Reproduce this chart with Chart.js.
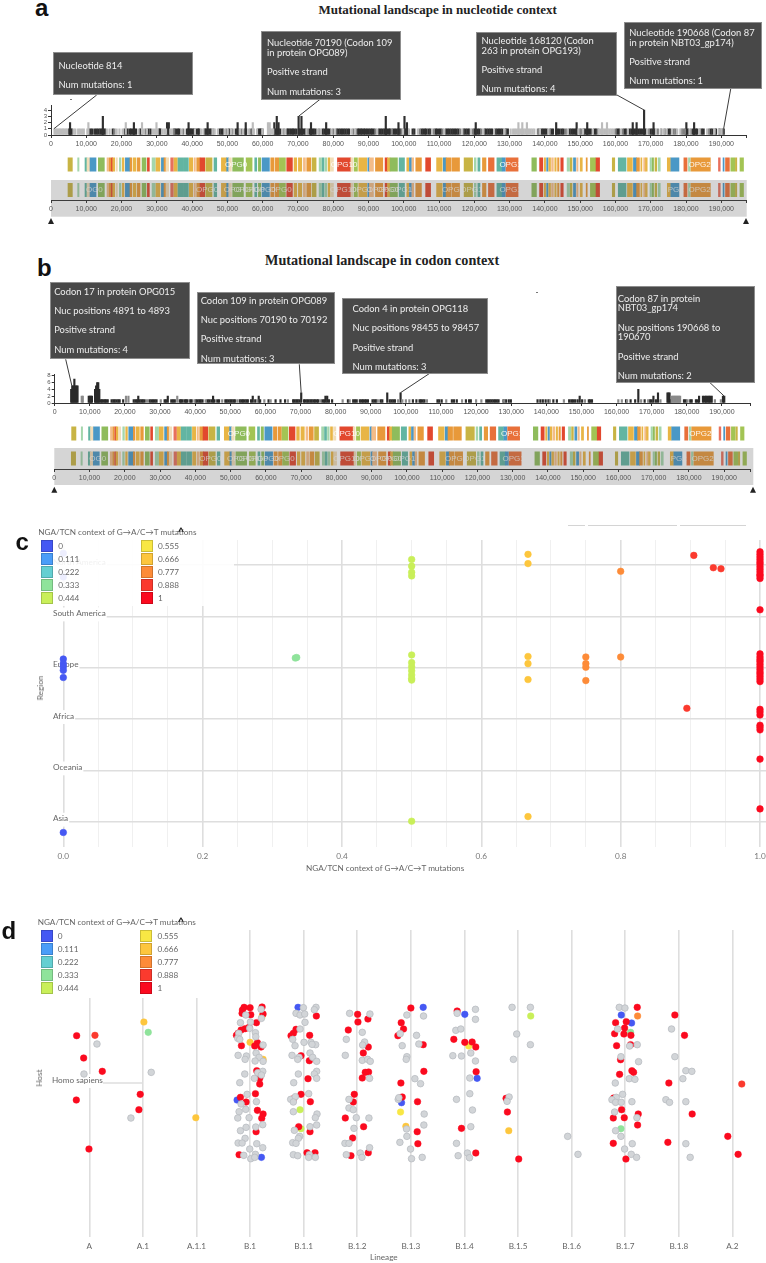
<!DOCTYPE html>
<html>
<head>
<meta charset="utf-8">
<title>Mutational landscape</title>
<script src="https://cdn.jsdelivr.net/npm/chart.js@4/dist/chart.umd.min.js"></script>
<style>
    html, body { margin: 0; background: #fff; }
    #page { position: relative; width: 766px; height: 1263px; overflow: hidden; }
    #page canvas { position: absolute; left: 0; }
    .txt { position: absolute; white-space: nowrap; }
    .title { font-family: "Liberation Serif"; font-weight: bold; color: #222; }
    .letter { font-family: "Liberation Sans"; font-weight: bold; font-size: 24px; line-height: 24px; color: #111; }
    .axis { font-family: Lato; font-size: 8.2px; color: #666; line-height: 10px; }
    .box { position: absolute; box-sizing: border-box; background: rgba(62, 62, 62, 0.95); border: 1px solid #8d8d8d;
           color: #eee; font-family: Lato; font-size: 9.4px; line-height: 9.7px; white-space: nowrap; }
    .box p { margin: 0 0 9.6px 0; }
    .legend { position: absolute; background: #fff; }
    .swatch { position: absolute; width: 12px; height: 12px; box-sizing: border-box; border: 1px solid rgba(0, 0, 0, 0.18); }
</style>
</head>
<body>
<div id="page"></div>
<script>
// --- Panels a and b: genome tracks ---
const genomeTicks = [0, 10000, 20000, 30000, 40000, 50000, 60000, 70000, 80000, 90000, 100000, 110000, 120000, 130000, 140000, 150000, 160000, 170000, 180000, 190000];

const ntLightSites = [1000, 1400, 1800, 2200, 2600, 3000, 3400, 3800, 4200, 4600, 6400, 6900, 7700, 8200, 8800, 9300, 10300, 15800, 16600, 18600, 19400, 20300, 24800, 26200, 27200, 28900, 29500, 30200, 31500, 32100, 32600, 33800, 34300, 37000, 40800, 42500, 43200, 45800, 46400, 47300, 49200, 50100, 51000, 51800, 53500, 54500, 56000, 57500, 58400, 59900, 61600, 62100, 62600, 63000, 65600, 66400, 72400, 75600, 76400, 79500, 80600, 85200, 86200, 92500, 99800, 101500, 104000, 108000, 111500, 116600, 119000, 122600, 125600, 128500, 130300, 131000, 131500, 132000, 132500, 133000, 133500, 134000, 134500, 135000, 135500, 136000, 136500, 137000, 138600, 141000, 146500, 149500, 150800, 153600, 155300, 155800, 156300, 156800, 157300, 157800, 158300, 158800, 159300, 161500, 163500, 169000, 171500, 172800, 173700, 174500, 176000, 177500, 178400, 181000, 183800, 186000, 188000, 189300, 190000];
const ntMidSites = [18000, 26800, 34800, 37500, 46000, 49700, 51300, 54000, 56500, 60000, 62000, 66000, 72700, 76000, 80000, 85700, 86500, 92000, 96600, 99400, 104500, 108500, 111000, 116000, 119500, 122000, 128800, 138000, 138300, 141400, 146000, 149900, 150300, 155000, 160000, 162000, 169500, 172000, 173000, 174000, 176500, 177000, 178800, 179300, 179700, 181400, 184000, 186500, 188200, 190300];
const ntDarkSites = [5100, 5500, 5900, 10800, 11300, 11800, 12500, 13000, 13500, 14000, 14400, 14800, 15300, 17500, 20900, 21300, 21700, 22300, 22700, 23200, 23600, 24100, 25300, 25700, 27600, 28200, 30700, 31000, 33300, 35000, 35500, 36000, 36400, 38500, 38900, 39300, 39700, 40100, 40500, 41200, 41700, 42000, 43600, 44000, 44400, 44900, 45300, 47800, 48300, 48700, 50500, 52400, 52900, 53100, 55000, 55300, 57000, 58800, 59200, 59600, 63500, 64000, 64500, 65000, 67000, 67300, 67800, 68200, 68600, 69000, 69500, 70200, 70600, 71100, 71500, 72000, 73300, 73700, 74100, 74500, 75000, 77000, 77500, 78000, 78500, 79000, 81000, 81500, 82000, 82500, 83000, 83500, 84000, 84500, 87000, 87400, 87800, 88200, 88700, 89100, 89600, 90100, 90600, 91000, 91500, 93000, 93500, 94000, 94500, 94900, 95300, 95800, 96200, 97000, 97500, 98000, 98500, 99000, 100200, 100600, 101000, 102500, 103000, 105000, 105500, 106000, 106400, 107000, 107500, 109000, 109400, 110000, 110500, 112000, 112500, 113000, 113500, 114000, 114500, 115000, 115500, 117000, 117500, 118000, 118500, 120000, 120400, 121000, 121500, 123000, 123500, 124000, 124500, 125000, 126000, 126500, 127000, 127500, 128000, 129000, 129500, 139000, 139500, 140000, 140500, 141800, 142300, 143200, 143700, 144200, 144800, 145300, 147000, 147500, 148000, 148500, 149000, 151000, 151500, 152000, 152500, 153000, 154000, 154500, 160500, 161000, 162500, 163000, 164000, 164500, 165000, 165500, 166000, 166500, 167000, 167500, 168100, 168500, 170000, 170500, 171000, 175000, 175500, 180000, 180500, 182000, 182300, 182800, 183200, 184500, 185000, 187000, 187500, 188500, 189500, 190700];
const ntSpikeSites = [5400, 14700, 23500, 32900, 33400, 39000, 44400, 52900, 55200, 63300, 64000, 64500, 70190, 71000, 73700, 78000, 94900, 98500, 100200, 100900, 120400, 143200, 149000, 152000, 164900, 166000, 168120, 170800, 180100, 182300];
const ntSpikeCounts = [2, 3, 2, 2, 2, 2, 2, 2, 2, 2, 3, 2, 3, 3, 2, 2, 3, 2, 3, 2, 2, 2, 2, 2, 2, 2, 4, 2, 2, 2];
const ntLightSpikeSites = [10600, 21200, 25800, 29900, 57200, 61500, 62000, 132500, 133600, 134900, 156200, 157600];

const cdnDarkSites = [4700, 5000, 5300, 5600, 5900, 6200, 6500, 9700, 10000, 10300, 10600, 11500, 11800, 12100, 12400, 12700, 13100, 13500, 13900, 14300, 14700, 15100, 16200, 16700, 17100, 17600, 18100, 18500, 19500, 22500, 23000, 23400, 23800, 24200, 24700, 25100, 25600, 27000, 27500, 28000, 28500, 29000, 31300, 31700, 32200, 33200, 33700, 34200, 35600, 36000, 36400, 37000, 37400, 37800, 38600, 39000, 40200, 40700, 41200, 41600, 42100, 43500, 44000, 44600, 45100, 45500, 46300, 46800, 48600, 49000, 49500, 50000, 50400, 50900, 51300, 52700, 53200, 53600, 54100, 54600, 55000, 55900, 56400, 57100, 58100, 58500, 60900, 62900, 64300, 65600, 67900, 68300, 68800, 69200, 69700, 70200, 71000, 71400, 71900, 72300, 72800, 73200, 73700, 74100, 74600, 75000, 76200, 76700, 77100, 77600, 78100, 79000, 83500, 85000, 85500, 86000, 86900, 87400, 87800, 88300, 88700, 89200, 90500, 91000, 91500, 92800, 93300, 94700, 95400, 95900, 96400, 96900, 98500, 102000, 103000, 103900, 104300, 104800, 105300, 109000, 109500, 110200, 113100, 113700, 114500, 117100, 118000, 118500, 122900, 123400, 123900, 124400, 124900, 125400, 125900, 126400, 127800, 128500, 129300, 129900, 137500, 138300, 139000, 139800, 140600, 142000, 143000, 146500, 147100, 147600, 148200, 148900, 149500, 150200, 152100, 152500, 153000, 162700, 164000, 165300, 166200, 168000, 169500, 170000, 170500, 171200, 171800, 174500, 174800, 175100, 175400, 179200, 179700, 181000, 181400, 182600, 183100, 183500, 184600, 185100, 185500, 185900, 186300, 186700, 187100, 190300, 190668, 191000];
const cdnDarkCounts = [4, 5, 5, 7, 5, 5, 5, 2, 2, 2, 2, 4, 5, 6, 6, 4, 1, 1, 1, 1, 1, 1, 1, 1, 1, 1, 1, 1, 1, 1, 1, 1, 2, 1, 1, 1, 1, 1, 1, 1, 1, 1, 1, 1, 2, 1, 1, 1, 1, 1, 1, 1, 1, 1, 1, 1, 1, 1, 1, 1, 1, 1, 1, 1, 2, 1, 1, 1, 1, 1, 1, 1, 1, 1, 1, 1, 1, 1, 1, 1, 1, 1, 2, 1, 2, 1, 1, 1, 1, 1, 1, 1, 1, 1, 1, 3, 1, 1, 1, 1, 1, 1, 1, 1, 1, 1, 1, 1, 2, 2, 1, 1, 1, 1, 1, 1, 1, 1, 1, 1, 1, 1, 1, 1, 1, 1, 1, 3, 1, 1, 1, 1, 3, 1, 1, 1, 1, 1, 1, 1, 1, 1, 1, 1, 1, 1, 1, 1, 1, 1, 1, 1, 1, 1, 1, 1, 1, 1, 1, 1, 1, 1, 1, 1, 1, 1, 1, 1, 1, 1, 1, 1, 2, 1, 1, 1, 1, 1, 1, 1, 4, 1, 1, 1, 2, 1, 3, 3, 3, 3, 1, 1, 1, 1, 1, 1, 1, 2, 2, 2, 2, 2, 2, 2, 2, 2, 2];
const cdnLightSites = [7700, 8000, 20300, 21000, 26300, 30200, 34900, 39800, 43000, 47700, 52000, 57700, 59700, 61500, 66400, 75600, 82000, 84000, 92000, 97800, 99000, 100000, 101000, 106000, 111500, 116000, 120000, 121500, 128000, 141000, 145000, 151000, 160500, 161500, 163000, 167000, 169000, 172500, 175700, 176000, 176300, 176600, 176900, 177200, 177500, 177800, 178100, 180200, 188000, 189700];
const cdnLightCounts = [2, 2, 2, 2, 1, 1, 2, 1, 1, 1, 1, 1, 1, 1, 1, 1, 1, 1, 1, 1, 1, 1, 1, 1, 1, 1, 1, 1, 1, 1, 1, 1, 1, 1, 1, 1, 1, 1, 2, 2, 2, 2, 2, 2, 2, 2, 2, 1, 1, 1];

const geneFill = { mustard: "#c8b444", ltgreen: "#a4d6ac", teal: "#62b5a2", pale: "#f2ddb8", blue: "#4a98c6", green: "#8fbc5c", peach: "#f3bc88", orange: "#e8993a", red: "#e2482e", gold: "#e8b545", salmon: "#e8705c", lime: "#a3c454", darkorange: "#e8703a" };
const geneStart = [4820, 7560, 9640, 10200, 11060, 13420, 15880, 16540, 17110, 17490, 18430, 19380, 20230, 21080, 22400, 23250, 24480, 25800, 27320, 28640, 29770, 31290, 32040, 32600, 33930, 34880, 36000, 37520, 39220, 40550, 41300, 42250, 43860, 46200, 48300, 49810, 50380, 51500, 55300, 57750, 58790, 59830, 62290, 63600, 64740, 66820, 68900, 70130, 71550, 72500, 74000, 76000, 76840, 77700, 78540, 79400, 81200, 85000, 85920, 87240, 89800, 90260, 91970, 94700, 95370, 96130, 98680, 100850, 101600, 102300, 103400, 106200, 109300, 111200, 112000, 113600, 117100, 120000, 121000, 122300, 124000, 126400, 127900, 129000, 136300, 138500, 139800, 140500, 141100, 141900, 142800, 143600, 144500, 146300, 147200, 148100, 149000, 150000, 151700, 152900, 154500, 159100, 160800, 163400, 165100, 166000, 167200, 168000, 168500, 169800, 170400, 171200, 172100, 174700, 175700, 179400, 180700, 181400, 189200, 190500, 191200, 192700, 194000, 195300];
const geneEnd = [6050, 7940, 10200, 11060, 12760, 15120, 16350, 16920, 17490, 18050, 18810, 19850, 20700, 22400, 22870, 24100, 25240, 26940, 27880, 29580, 30900, 32040, 32600, 33360, 34690, 35820, 37330, 38940, 40170, 40930, 42250, 43570, 45650, 46980, 49810, 50380, 51130, 54540, 57000, 58320, 59450, 61910, 63230, 64560, 66450, 68430, 69660, 71080, 72120, 73630, 75140, 76650, 77410, 78170, 79110, 80060, 85000, 85540, 86860, 89500, 90260, 91400, 94050, 95370, 96100, 98200, 100200, 101400, 102200, 102800, 105000, 107600, 110900, 112000, 113300, 115800, 119500, 120500, 121600, 123300, 125600, 127800, 128800, 132400, 137600, 139400, 140200, 140900, 141600, 142400, 143200, 144000, 145200, 147000, 147700, 148700, 149400, 150600, 152000, 154400, 155500, 159800, 163000, 164800, 166000, 166800, 167500, 168400, 169000, 170200, 170800, 171700, 172700, 175600, 178000, 180300, 181200, 186900, 189700, 190800, 192300, 193800, 194400, 196300];
const geneKind = ["mustard", "ltgreen", "teal", "pale", "blue", "green", "peach", "orange", "red", "gold", "pale", "ltgreen", "gold", "blue", "orange", "gold", "orange", "green", "red", "ltgreen", "gold", "blue", "orange", "pale", "salmon", "gold", "teal", "teal", "gold", "peach", "orange", "red", "mustard", "teal", "gold", "blue", "pale", "green", "lime", "teal", "green", "blue", "orange", "orange", "lime", "red", "gold", "gold", "peach", "orange", "mustard", "ltgreen", "teal", "ltgreen", "gold", "pale", "red", "pale", "lime", "gold", "blue", "peach", "orange", "red", "gold", "green", "teal", "gold", "blue", "peach", "orange", "red", "gold", "blue", "orange", "orange", "mustard", "ltgreen", "teal", "orange", "darkorange", "teal", "blue", "darkorange", "green", "red", "gold", "blue", "gold", "peach", "gold", "orange", "red", "ltgreen", "mustard", "blue", "peach", "gold", "orange", "lime", "red", "mustard", "teal", "gold", "blue", "orange", "gold", "peach", "gold", "ltgreen", "green", "mustard", "ltgreen", "gold", "blue", "darkorange", "ltgreen", "orange", "salmon", "blue", "darkorange", "lime", "mustard", "lime"];

const trackLabelAt = [49300, 79300, 127100, 180700];
const trackLabelText = ["OPG0", "OPG10", "OPG1", "OPG21"];
const brushLabelAt = [9900, 41100, 49000, 51700, 54300, 57400, 61900, 79100, 84800, 89500, 92300, 96100, 110800, 116000, 127100, 174800, 180700];
const brushLabelText = ["OG0", "OPG0", "OPG", "OPG0", "OPG0", "OPG0", "OPG0", "OPG10", "OPG1", "OPG0", "OPG0", "OPG1", "OPG1", "OPG1", "OPG1", "PG2", "OPG21"];

// --- Panels c and d: legend bins ---
const legendValues = ["0", "0.111", "0.222", "0.333", "0.444", "0.555", "0.666", "0.777", "0.888", "1"];
const legendColours = ["#4558f3", "#4a9df8", "#64cfd1", "#8fe39b", "#c9ef59", "#f8e744", "#fdc63d", "#fd8b38", "#fb3a2e", "#fb0a1f"];
const legendTitle = "NGA/TCN context of G→A/C→T mutations";

// --- Panel c: one x list and one jitter list per region ---
const regions = ["Asia", "Oceania", "Africa", "Europe", "South America", "North America"];
const asiaX = [0, 0.5, 0.667, 1];
const asiaJitter = [-0.21, 0.01, 0.1, 0.25];
const oceaniaX = [1];
const oceaniaJitter = [0.22];
const africaX = [0.895, 1, 1, 1, 1, 1, 1];
const africaJitter = [0.21, 0.19, 0.14, 0.08, -0.12, -0.16, -0.21];
const europeX = [0, 0, 0, 0, 0, 0.333, 0.335, 0.5, 0.5, 0.5, 0.5, 0.5, 0.5, 0.5, 0.667, 0.667, 0.667, 0.75, 0.75, 0.75, 0.75, 0.8, 1, 1, 1, 1, 1, 1, 1, 1, 1, 1, 1, 1];
const europeJitter = [0.17, 0.08, 0.02, -0.05, -0.19, 0.19, 0.2, 0.25, 0.1, 0.02, -0.06, -0.14, -0.21, -0.24, 0.22, 0.08, -0.23, 0.21, 0.08, 0.01, -0.25, 0.21, 0.27, 0.21, 0.16, 0.12, 0.07, 0.02, -0.03, -0.08, -0.12, -0.17, -0.22, -0.27];
const southAmericaX = [1];
const southAmericaJitter = [0.13];
const northAmericaX = [0, 0, 0.5, 0.5, 0.5, 0.5, 0.667, 0.667, 0.8, 0.905, 0.933, 0.944, 1, 1, 1, 1, 1, 1, 1, 1, 1, 1, 1, 1];
const northAmericaJitter = [0.23, -0.23, 0.11, -0.02, -0.14, -0.21, 0.21, 0.03, -0.12, 0.19, -0.05, -0.07, 0.26, 0.21, 0.16, 0.11, 0.06, 0.02, -0.03, -0.08, -0.13, -0.18, -0.21, -0.26];
const contextTicks = [0, 0.05, 0.1, 0.15, 0.2, 0.25, 0.3, 0.35, 0.4, 0.45, 0.5, 0.55, 0.6, 0.65, 0.7, 0.75, 0.8, 0.85, 0.9, 0.95, 1];
const contextMajor = [0, 0.2, 0.4, 0.6, 0.8, 1];

// --- Panel d: [jitter x, jitter y] pairs per lineage ---
const lineages = ["A", "A.1", "A.1.1", "B.1", "B.1.1", "B.1.2", "B.1.3", "B.1.4", "B.1.5", "B.1.6", "B.1.7", "B.1.8", "A.2"];
const aGrey = [[23, 117], [-16, 27]];
const a1Grey = [[25, 32], [-36, -105]];
const b1Grey = [[-13, 204], [33, 221], [34, 194], [-29, 181], [1, 183], [-1, 164], [-34, 149], [-37, 134], [-31, 131], [16, 151], [17, 139], [39, 114], [-36, 83], [-11, 81], [-15, 71], [18, 90], [27, 77], [15, 66], [39, 65], [-16, 27], [-31, 1], [13, 14], [38, 35], [23, 31], [34, 24], [-9, -34], [-27, -63], [19, -56], [-33, -86], [-13, -79], [-37, -105], [-3, -104], [-29, -143], [-12, -133], [-15, -166], [17, -132], [38, -125], [-36, -180], [-24, -180], [20, -182], [-1, -198], [38, -194], [-19, -217], [2, -227], [16, -214], [14, -223]];
const b11Grey = [[-1, 226], [37, 227], [32, 220], [-23, 209], [-11, 204], [3, 207], [4, 182], [-11, 162], [-33, 131], [-26, 112], [1, 122], [22, 122], [36, 115], [25, 116], [-35, 83], [-14, 77], [-18, 71], [19, 90], [27, 77], [39, 65], [-16, 27], [39, 35], [32, 27], [39, 14], [-30, 1], [15, -32], [-39, -49], [-25, -41], [-31, -57], [-31, -86], [40, -93], [35, -104], [19, -131], [-28, -142], [39, -126], [-12, -160], [-16, -166], [-33, -179], [-23, -181], [-31, -215], [-18, -218], [17, -215], [15, -223], [35, -223]];
const b12Grey = [[-23, 209], [38, 207], [15, 152], [-33, 131], [22, 123], [16, 114], [-36, 83], [15, 68], [31, 71], [39, 65], [37, 14], [-25, -49], [-25, -75], [-12, -80], [-3, -104], [35, -105], [-10, -136], [-37, -181], [-25, -181], [-33, -215], [9, -210], [14, -223], [37, -194]];
const b13Grey = [[-12, 204], [38, 201], [-32, 148], [17, 143], [-26, 112], [24, 117], [-12, 79], [-14, 71], [12, 13], [29, -2], [-38, -49], [-36, -44], [40, -93], [39, -126], [-13, -138], [-12, -160], [-33, -178], [-1, -198], [2, -227], [34, -223]];
const b14Grey = [[33, 221], [-22, 209], [33, 191], [-26, 158], [-11, 162], [-35, 82], [-9, 81], [19, 90], [33, 66], [16, 15], [16, -32], [-24, -49], [24, -81], [19, -131], [-24, -181], [-19, -218], [9, -210], [15, -224]];
const b15Grey = [[-18, 227], [37, 227], [-4, 147], [37, 115], [-14, 71], [-27, -42], [-33, -55]];
const b16Grey = [[-12, -160], [19, -214]];
const b17Grey = [[-18, 227], [-1, 225], [-23, 162], [13, 111], [36, 115], [-13, 79], [40, 64], [12, 13], [29, 11], [-30, 0], [-8, -34], [-27, -43], [-40, -50], [-29, -58], [-12, -58], [20, -56], [-32, -87], [35, -104], [-29, -143], [-13, -160], [21, -182], [-2, -198], [18, -214], [34, -223]];
const b18Grey = [[-22, 162], [-12, 79], [21, 37], [39, 35], [12, 13], [-39, -50], [-28, -58], [21, -56], [21, -182], [34, -223]];
const greyByLineage = [aGrey, a1Grey, [], b1Grey, b11Grey, b12Grey, b13Grey, b14Grey, b15Grey, b16Grey, b17Grey, b18Grey, []];

const aRed = [[-38, 142], [-17, 75], [39, 35], [-39, -51], [-1, -198]];
const a1Red = [[-8, -34], [-12, -80]];
const b1Red = [[-18, 227], [-23, 219], [-24, 209], [0, 226], [2, 205], [36, 228], [39, 207], [19, 181], [-15, 163], [-27, 159], [-36, 149], [-41, 143], [-3, 167], [-26, 112], [22, 121], [14, 111], [33, 108], [20, 37], [29, 14], [29, -3], [16, -32], [-12, -57], [-29, -43], [22, -82], [39, -93], [35, -106], [18, -146], [-33, -215]];
const b11Red = [[38, 201], [-23, 161], [-31, 149], [-38, 142], [18, 143], [-8, 82], [17, 67], [13, 13], [-8, -34], [-31, -47], [20, -56], [-15, -131], [19, -146], [10, -209], [34, -209]];
const b12Red = [[1, 206], [32, 192], [2, 183], [-27, 159], [33, 108], [18, 90], [34, 33], [24, 32], [15, 15], [-9, -34], [-12, -57], [-36, -105], [19, -131], [-14, -165], [-19, -218], [33, -209]];
const b13Red = [[0, 225], [-29, 181], [-22, 162], [-39, 142], [37, 115], [39, 35], [-30, 0], [-26, -42], [20, -56], [19, -146], [21, -182]];
const b14Red = [[-22, 216], [-32, 131], [1, 122], [23, 123], [34, 108], [35, 34], [-9, -136], [34, -210]];
const b15Red = [[-36, -46], [-32, -87], [2, -228]];
const b17Red = [[36, 227], [-29, 181], [3, 184], [-2, 165], [-32, 148], [-4, 147], [17, 143], [-26, 112], [16, 115], [-14, 70], [-17, 26], [20, 37], [25, 32], [-35, -45], [-11, -80], [-36, -105], [-3, -104], [39, -93], [37, -126], [-36, -181], [2, -228]];
const b18Red = [[-12, 204], [17, 143], [-30, 0], [40, -93], [-33, -178]];
const a2Red = [[-14, -160], [17, -214]];
const redByLineage = [aRed, a1Red, [], b1Red, b11Red, b12Red, b13Red, b14Red, b15Red, [], b17Red, b18Red, a2Red];

// lineage index, jitter x, jitter y, legend bin
const otherLineage = [0, 12, 1, 1, 2, 3, 3, 3, 3, 3, 4, 4, 4, 6, 6, 6, 6, 7, 7, 7, 8, 8, 10, 10, 10, 10, 10];
const otherDx = [17, 28, 3, 16, -2, 0, 36, -39, 34, 39, -17, -11, -8, 37, -28, -31, -15, 1, 38, 13, 38, -28, -12, 19, 37, 16, -13];
const otherDy = [143, -3, 183, 152, -104, 122, 200, -51, -223, 71, 227, -80, -137, 227, -59, -87, -130, 206, 14, 111, 201, -143, 204, 180, 201, 152, -137];
const otherBin = [8, 8, 6, 3, 6, 6, 5, 0, 0, 6, 0, 4, 4, 0, 0, 5, 6, 0, 0, 5, 4, 6, 0, 0, 7, 3, 3];

const page = document.getElementById("page");
const genomeFont = { family: "Liberation Sans", size: 7 };
const plotFont = { family: "Lato", size: 8.2 };
const axisColor = "#333";
const gridColor = "#dedede";

function addText(text, x, cy, cls, css) {
    const el = document.createElement("div");
    el.className = "txt " + cls;
    el.textContent = text;
    el.style.left = x + "px";
    el.style.top = cy + "px";
    el.style.transform = "translateY(-50%)";
    if (css) Object.assign(el.style, css);
    page.appendChild(el);
    return el;
}

function addCanvas(top, height) {
    const c = document.createElement("canvas");
    c.width = 766;
    c.height = height;
    c.style.top = top + "px";
    page.appendChild(c);
    return c;
}

function addRule(x, y, w, h, colour) {
    const el = document.createElement("div");
    el.style.cssText = "position:absolute;left:" + x + "px;top:" + y + "px;width:" + w + "px;height:" + h + "px;background:" + colour;
    page.appendChild(el);
}

function bar1(list) {
    return list.map(p => ({ x: p, y: 1 }));
}

function pairs(xs, ys) {
    return xs.map((x, i) => ({ x: x, y: ys[i] }));
}

// x axis shared by the mutation bars and the brush
function genomeAxis(max, left, right, axisHeight) {
    return {
        type: "linear",
        offset: false,
        min: 0,
        max: max,
        afterBuildTicks: s => { s.ticks = genomeTicks.concat([max]).map(v => ({ value: v })); },
        afterFit: s => { s.height = axisHeight; },
        border: { color: axisColor },
        grid: { drawOnChartArea: false, offset: false, tickLength: 3, tickColor: axisColor },
        ticks: {
            autoSkip: false, maxRotation: 0, padding: 2, color: "#555", font: genomeFont,
            callback: v => (v === max ? "" : v.toLocaleString("en-US"))
        }
    };
}

function mutationChart(p) {
    const height = p.axisY + 15 - p.canvasTop;
    const plotTop = p.plotTop - p.canvasTop;
    const connectors = {
        id: "connectors",
        afterDraw(chart) {
            const ctx = chart.ctx;
            ctx.save();
            ctx.strokeStyle = "#3c3c3c";
            ctx.lineWidth = 1;
            p.links.forEach(l => {
                ctx.beginPath();
                ctx.moveTo(chart.scales.x.getPixelForValue(l.site), chart.scales.y.getPixelForValue(l.count));
                ctx.lineTo(l.boxX, l.boxY - p.canvasTop);
                ctx.stroke();
            });
            ctx.restore();
        }
    };
    new Chart(addCanvas(p.canvasTop, height), {
        type: "bar",
        plugins: [connectors],
        data: { datasets: p.bars },
        options: {
            responsive: false, animation: false, devicePixelRatio: 1,
            layout: { autoPadding: false, padding: { left: p.left - 16, right: 766 - p.right, top: plotTop, bottom: 0 } },
            plugins: { legend: { display: false }, tooltip: { enabled: false } },
            datasets: { bar: { grouped: false, barThickness: 1.5 } },
            scales: {
                x: genomeAxis(p.max, p.left, p.right, 15),
                y: {
                    min: 0, max: p.yMax,
                    afterBuildTicks: s => { s.ticks = p.yTicks.map(v => ({ value: v })); },
                    afterFit: s => { s.width = 16; },
                    border: { color: axisColor },
                    grid: { drawOnChartArea: false, tickLength: 3, tickColor: axisColor },
                    ticks: { autoSkip: false, padding: 1, color: "#555", font: { family: "Liberation Sans", size: 6 } }
                }
            }
        }
    });
}

function geneDatasets() {
    return [{
        data: geneStart.map((s, i) => ({ x: [s, geneEnd[i]], y: "genes" })),
        backgroundColor: geneKind.map(k => geneFill[k]),
        barThickness: 13.4
    }];
}

function drawGeneLabels(chart, positions, names, colour) {
    const ctx = chart.ctx;
    ctx.save();
    ctx.font = '8px "Liberation Sans"';
    ctx.fillStyle = colour;
    ctx.textBaseline = "middle";
    const y = chart.scales.y.getPixelForValue(0);
    positions.forEach((p, i) => ctx.fillText(names[i], chart.scales.x.getPixelForValue(p), y));
    ctx.restore();
}

function geneTrack(p) {
    const labels = {
        id: "trackLabels",
        afterDatasetsDraw(chart) { drawGeneLabels(chart, trackLabelAt, trackLabelText, "rgba(255,255,255,0.9)"); }
    };
    new Chart(addCanvas(p.top, p.height), {
        type: "bar",
        plugins: [labels],
        data: { labels: ["genes"], datasets: geneDatasets() },
        options: {
            indexAxis: "y", responsive: false, animation: false, devicePixelRatio: 1,
            layout: { autoPadding: false, padding: { left: p.left, right: 766 - p.right, top: 0, bottom: 0 } },
            plugins: { legend: { display: false }, tooltip: { enabled: false } },
            scales: {
                x: { type: "linear", min: 0, max: p.max, display: false },
                y: { type: "category", display: false }
            }
        }
    });
}

function brushTrack(p) {
    const plotH = p.axisY - p.top;
    const height = p.bandBottom - p.top + 12;
    const marks = {
        id: "brushMarks",
        afterDatasetsDraw(chart) {
            const ctx = chart.ctx;
            drawGeneLabels(chart, brushLabelAt, brushLabelText, "rgba(255,255,255,0.75)");
            ctx.save();
            ctx.fillStyle = "rgba(88, 88, 88, 0.25)";
            ctx.fillRect(chart.chartArea.left, 0, p.bandRight - chart.chartArea.left, p.bandBottom - p.top);
            ctx.restore();
        },
        afterDraw(chart) {
            const ctx = chart.ctx;
            ctx.save();
            ctx.fillStyle = "#222";
            p.handles.forEach(v => {
                const x = chart.scales.x.getPixelForValue(v);
                const y = p.handleY - p.top;
                ctx.beginPath();
                ctx.moveTo(x, y);
                ctx.lineTo(x - 3, y + 6);
                ctx.lineTo(x + 3, y + 6);
                ctx.closePath();
                ctx.fill();
            });
            ctx.restore();
        }
    };
    new Chart(addCanvas(p.top, height), {
        type: "bar",
        plugins: [marks],
        data: { labels: ["genes"], datasets: geneDatasets() },
        options: {
            indexAxis: "y", responsive: false, animation: false, devicePixelRatio: 1,
            layout: { autoPadding: false, padding: { left: p.left, right: 766 - p.right, top: 0, bottom: 0 } },
            plugins: { legend: { display: false }, tooltip: { enabled: false } },
            scales: {
                x: genomeAxis(p.max, p.left, p.right, height - plotH),
                y: { type: "category", display: false }
            }
        }
    });
}

function addBox(b) {
    const el = document.createElement("div");
    el.className = "box";
    el.style.left = b.x + "px";
    el.style.top = b.y + "px";
    el.style.width = b.w + "px";
    el.style.height = b.h + "px";
    el.style.padding = b.pad + "px 0 0 " + b.indent + "px";
    el.innerHTML = b.text.map(t => "<p>" + t + "</p>").join("");
    page.appendChild(el);
}

function addLegend(x, y, w, h, veil, swatchX, swatchY, titleY) {
    const box = document.createElement("div");
    box.className = "legend";
    box.style.left = x + "px";
    box.style.top = y + "px";
    box.style.width = w + "px";
    box.style.height = h + "px";
    box.style.background = veil;
    page.appendChild(box);
    addText(legendTitle, swatchX - 3, titleY, "axis");
    addText("^", 177.5, titleY, "axis", { fontSize: "12px", fontWeight: "bold", color: "#222" });
    legendValues.forEach((v, i) => {
        const col = i < 5 ? 0 : 1;
        const row = i % 5;
        const sx = swatchX + col * 99.7;
        const s = document.createElement("div");
        s.className = "swatch";
        s.style.left = sx + "px";
        s.style.top = (swatchY + row * 13 - 6) + "px";
        s.style.background = legendColours[i];
        page.appendChild(s);
        addText(v, sx + 17, swatchY + row * 13, "axis");
    });
}

// ties between two bins go to the lower one, 0.5 is drawn in the 0.444 colour
function binColour(value) {
    const bins = legendValues.map(Number);
    let best = 0;
    bins.forEach((b, i) => { if (Math.abs(b - (value - 0.002)) < Math.abs(bins[best] - (value - 0.002))) best = i; });
    return legendColours[best];
}

// --- Panel a ---
addText("a", 35, 8, "letter");
addText("Mutational landscape in nucleotide context", 318.5, 9.5, "title", { fontSize: "13px" });

const ntBars = [
    { data: bar1(ntLightSites), backgroundColor: "#bcbcbc" },
    { data: ntLightSpikeSites.map(p => ({ x: p, y: 2 })), backgroundColor: "#bcbcbc" },
    { data: bar1(ntMidSites), backgroundColor: "#808080" },
    { data: bar1(ntDarkSites), backgroundColor: "#2f2f2f" },
    { data: pairs(ntSpikeSites, ntSpikeCounts), backgroundColor: "#2f2f2f" }
];
mutationChart({
    canvasTop: 20, plotTop: 105, axisY: 135, left: 51, right: 746.7, max: 197205, yMax: 4.8, yTicks: [0, 1, 2, 3, 4], bars: ntBars,
    links: [
        { site: 814, count: 1, boxX: 96.7, boxY: 95 },
        { site: 70190, count: 3, boxX: 321.7, boxY: 98 },
        { site: 168120, count: 4, boxX: 617, boxY: 95 },
        { site: 190668, count: 1, boxX: 730.7, boxY: 89 }
    ]
});
geneTrack({ top: 152, height: 25, left: 51, right: 746.7, max: 197205 });
brushTrack({ top: 180, axisY: 200.7, bandBottom: 216.7, bandRight: 746.7, handleY: 218, handles: [0, 197000], left: 51, right: 746.7, max: 197205 });

addBox({ x: 53, y: 52.3, w: 140.3, h: 43, pad: 7.5, indent: 4.5, text: ["Nucleotide 814", "Num mutations: 1"] });
addBox({ x: 261, y: 31.3, w: 140.3, h: 69, pad: 6.2, indent: 5, text: ["Nucleotide 70190 (Codon 109<br>in protein OPG089)", "Positive strand", "Num mutations: 3"] });
addBox({ x: 476, y: 31.7, w: 141, h: 64, pad: 3.2, indent: 4.5, text: ["Nucleotide 168120 (Codon<br>263 in protein OPG193)", "Positive strand", "Num mutations: 4"] });
addBox({ x: 623.7, y: 21.7, w: 138, h: 67.6, pad: 5.5, indent: 4.5, text: ["Nucleotide 190668 (Codon 87<br>in protein NBT03_gp174)", "Positive strand", "Num mutations: 1"] });
addRule(70.2, 98.5, 1.4, 1.4, "#777");

// --- Panel b ---
addText("b", 37, 268, "letter");
addText("Mutational landscape in codon context", 265, 260, "title", { fontSize: "14.2px" });

const cdnBars = [
    { data: pairs(cdnLightSites, cdnLightCounts), backgroundColor: "#8a8a8a" },
    { data: pairs(cdnDarkSites, cdnDarkCounts), backgroundColor: "#2a2a2a" }
];
mutationChart({
    canvasTop: 280, plotTop: 374.3, axisY: 403.7, left: 54.7, right: 750, max: 198000, yMax: 8.4, yTicks: [0, 2, 4, 6, 8], bars: cdnBars,
    links: [
        { site: 4891, count: 5, boxX: 65.7, boxY: 359.3 },
        { site: 70190, count: 3, boxX: 299.3, boxY: 364.3 },
        { site: 98455, count: 3, boxX: 431.7, boxY: 372 },
        { site: 190668, count: 2, boxX: 710, boxY: 382.7 }
    ]
});
geneTrack({ top: 421, height: 25, left: 54.7, right: 750, max: 198000 });
brushTrack({ top: 448.3, axisY: 469.3, bandBottom: 485.3, bandRight: 753.3, handleY: 487, handles: [0, 198150], left: 54.3, right: 750.7, max: 197500 });

addBox({ x: 49.7, y: 282.3, w: 140, h: 77, pad: 3.5, indent: 3.5, text: ["Codon 17 in protein OPG015", "Nuc positions 4891 to 4893", "Positive strand", "Num mutations: 4"] });
addBox({ x: 196.7, y: 292.3, w: 138.3, h: 72, pad: 2.5, indent: 3, text: ["Codon 109 in protein OPG089", "Nuc positions 70190 to 70192", "Positive strand", "Num mutations: 3"] });
addBox({ x: 342, y: 297.7, w: 145.7, h: 76.3, pad: 5.5, indent: 9.5, text: ["Codon 4 in protein OPG118", "Nuc positions 98455 to 98457", "Positive strand", "Num mutations: 3"] });
addBox({ x: 616.3, y: 286, w: 138.7, h: 96.7, pad: 6.5, indent: 0.5, text: ["Codon 87 in protein<br>NBT03_gp174", "Nuc positions 190668 to<br>190670", "Positive strand", "Num mutations: 2"] });
addRule(536.3, 292, 1.4, 1.4, "#777");

// --- Panel c ---
const regionSeries = [
    pairs(asiaX, asiaJitter.map(j => 0 + j)),
    pairs(oceaniaX, oceaniaJitter.map(j => 1 + j)),
    pairs(africaX, africaJitter.map(j => 2 + j)),
    pairs(europeX, europeJitter.map(j => 3 + j)),
    pairs(southAmericaX, southAmericaJitter.map(j => 4 + j)),
    pairs(northAmericaX, northAmericaJitter.map(j => 5 + j))
];

new Chart(addCanvas(520, 360), {
    type: "scatter",
    data: {
        datasets: regionSeries.map((d, i) => ({
            label: regions[i],
            data: d,
            pointRadius: 3.3,
            pointBorderWidth: 0.6,
            pointBackgroundColor: ctx => binColour(ctx.raw.x),
            pointBorderColor: ctx => binColour(ctx.raw.x)
        }))
    },
    options: {
        responsive: false, animation: false, devicePixelRatio: 1,
        layout: { autoPadding: false, padding: { left: 53, right: 0, top: 20, bottom: 0 } },
        plugins: { legend: { display: false }, tooltip: { enabled: false } },
        scales: {
            x: {
                type: "linear", min: -0.0148, max: 1.0086,
                afterBuildTicks: s => { s.ticks = contextTicks.map(v => ({ value: v })); },
                // the 1.0 label runs off the right edge in the reference, no room is kept for it
                afterFit: s => { s.height = 33.3; s.paddingRight = 0; },
                border: { display: false },
                grid: {
                    drawTicks: false,
                    color: c => (contextMajor.includes(c.tick.value) ? gridColor : "#f0f0f0"),
                    lineWidth: c => (contextMajor.includes(c.tick.value) ? 1.6 : 1)
                },
                ticks: {
                    autoSkip: false, maxRotation: 0, padding: 5, color: "#777", font: plotFont,
                    callback: v => (contextMajor.includes(v) ? v.toFixed(1) : "")
                }
            },
            y: {
                type: "linear", min: -0.487, max: 5.49,
                afterBuildTicks: s => { s.ticks = regions.map((r, i) => ({ value: i })); },
                afterFit: s => { s.width = 0; },
                border: { display: false },
                grid: { drawTicks: false, color: gridColor, lineWidth: 1.6 },
                ticks: {
                    mirror: true, padding: 0, labelOffset: -3, color: "#666", font: plotFont,
                    showLabelBackdrop: true, backdropColor: "#fff", backdropPadding: { top: 1, bottom: 3, left: 0, right: 1 },
                    callback: v => regions[v]
                }
            }
        }
    }
});

addText("c", 15.5, 541.5, "letter");
addLegend(38, 526, 196, 80, "rgba(255,255,255,0.9)", 41.3, 546.3, 532);
addText("Region", 40, 688, "axis", { transform: "translate(-50%,-50%) rotate(-90deg)" });
addText(legendTitle, 306, 867.7, "axis");

// short rules above the plot
addRule(567.7, 525, 17, 1, "#d4d4d4");
addRule(588.3, 525, 88.4, 1, "#d4d4d4");
addRule(680, 525, 66, 1, "#d4d4d4");

// --- Panel d ---
const hostColours = { grey: "#d2d5d8", greyEdge: "#b9bdc1" };
const jitterPerLineage = 161;

function lineagePoints(groups) {
    const out = [];
    groups.forEach((list, i) => list.forEach(p => out.push({ x: i + p[0] / jitterPerLineage, y: p[1] })));
    return out;
}

new Chart(addCanvas(925, 338), {
    type: "scatter",
    data: {
        datasets: [
            {
                data: [{ x: 0.256, y: 0 }, { x: 1, y: 0 }],
                showLine: true, pointRadius: 0, borderColor: gridColor, borderWidth: 1.6
            },
            {
                data: lineagePoints(greyByLineage),
                pointRadius: 3.3, pointBorderWidth: 0.8,
                pointBackgroundColor: hostColours.grey, pointBorderColor: hostColours.greyEdge
            },
            {
                data: lineagePoints(redByLineage),
                pointRadius: 3.3, pointBorderWidth: 0.5,
                pointBackgroundColor: legendColours[9], pointBorderColor: legendColours[9]
            },
            {
                data: otherLineage.map((l, i) => ({ x: l + otherDx[i] / jitterPerLineage, y: otherDy[i], bin: otherBin[i] })),
                pointRadius: 3.3, pointBorderWidth: 0.5,
                pointBackgroundColor: ctx => legendColours[ctx.raw.bin],
                pointBorderColor: ctx => legendColours[ctx.raw.bin]
            }
        ]
    },
    options: {
        responsive: false, animation: false, devicePixelRatio: 1,
        layout: { autoPadding: false, padding: { left: 52, right: 0, top: 5, bottom: 0 } },
        plugins: { legend: { display: false }, tooltip: { enabled: false } },
        scales: {
            x: {
                type: "linear", min: -0.696, max: 12.626,
                afterBuildTicks: s => { s.ticks = lineages.map((l, i) => ({ value: i })); },
                afterFit: s => { s.height = 26.3; },
                border: { display: false },
                grid: { drawTicks: false, color: gridColor, lineWidth: 1.6 },
                ticks: {
                    autoSkip: false, maxRotation: 0, padding: 5, color: "#666", font: plotFont,
                    callback: v => lineages[v]
                }
            },
            y: {
                type: "linear", min: -461, max: 459,
                afterBuildTicks: s => { s.ticks = [{ value: 0 }]; },
                afterFit: s => { s.width = 0; },
                border: { display: false },
                grid: { display: false },
                ticks: {
                    mirror: true, padding: 0, labelOffset: -3, color: "#666", font: plotFont,
                    showLabelBackdrop: true, backdropColor: "#fff", backdropPadding: { top: 1, bottom: 3, left: 0, right: 1 },
                    callback: () => "Homo sapiens"
                }
            }
        }
    }
});

addText("d", 1.5, 931, "letter");
addLegend(37, 915, 163, 83, "#fff", 40.7, 936, 921.7);
addText("Host", 39, 1077.7, "axis", { transform: "translate(-50%,-50%) rotate(-90deg)" });
addText("Lineage", 370, 1257, "axis");
</script>
</body>
</html>
